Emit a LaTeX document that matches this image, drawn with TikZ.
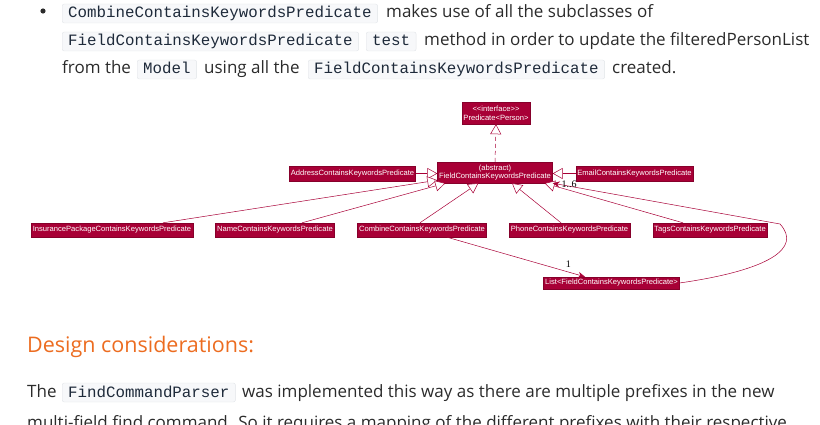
\documentclass[tikz,border=0pt]{standalone}
\usepackage{fontspec}
\setmainfont{Open Sans}
\setmonofont{Liberation Mono}
\newfontfamily\umlfont{Liberation Sans}
\newfontfamily\multfont{Liberation Serif}
\usetikzlibrary{arrows.meta,positioning}
\definecolor{umlred}{HTML}{A80036}
\definecolor{bodytext}{HTML}{2B2B2B}
\definecolor{headorange}{RGB}{236,108,32}
\definecolor{codeback}{HTML}{F7F8FA}
\definecolor{codeline}{HTML}{E1E4E8}
\definecolor{codetext}{HTML}{1E2A3A}
\tikzset{
  txt/.style={inner sep=0pt, anchor=base west, text=bodytext,
    font=\fontsize{17}{20}\selectfont},
  codebox/.style={anchor=base west, draw=codeline, fill=codeback,
    rounded corners=2pt, inner xsep=6pt, inner ysep=3pt, text height=11pt,
    text depth=2pt, text=codetext, font=\ttfamily\fontsize{15.8}{18}\selectfont},
  umlbox/.style={draw=umlred!80!black, fill=umlred, text=white, inner xsep=1.5pt,
    inner ysep=0pt, align=center, minimum height=#1,
    font=\umlfont\fontsize{7.6}{8.6}\selectfont},
  umlbox/.default=14pt,
  gen/.style={draw=umlred, line width=0.5pt,
    -{Triangle[open,length=10pt,width=11pt,fill=white]}},
  assoc/.style={draw=umlred, line width=0.5pt, -{Stealth[length=7pt,width=6pt]}},
  mult/.style={inner sep=0pt, text=black, font=\multfont\fontsize{10}{10}\selectfont}
}
\begin{document}
\begin{tikzpicture}[x=1pt, y=-1pt]
\useasboundingbox (0,0) rectangle (820,425);
\clip (0,0) rectangle (820,425);

\fill[bodytext] (43,11) circle (2.6pt);
\node[codebox] (c1) at (62,18) {CombineContainsKeywordsPredicate};
\node[txt] (t1) at (386,18) {makes use of all the subclasses of};
\node[codebox] (c2) at (62,46) {FieldContainsKeywordsPredicate};
\node[codebox] (c3) at (366,46) {test};
\node[txt] (t2) at (424,46) {method in order to update the filteredPersonList};
\node[txt] (t3) at (62,74) {from the};
\node[codebox] (c4) at (137,74) {Model};
\node[txt] (t4) at (204,74) {using all the};
\node[codebox] (c5) at (308,74) {FieldContainsKeywordsPredicate};
\node[txt] (t5) at (612,74) {created.};

\node[umlbox=22pt] (pred) at (496,113) {<{}<interface>{}>\\Predicate<Person>};
\node[umlbox=21pt] (field) at (495,172.5) {(abstract)\\FieldContainsKeywordsPredicate};
\node[umlbox=15pt] (address) at (352.5,173.5) {AddressContainsKeywordsPredicate};
\node[umlbox=15pt] (email) at (634.5,173.5) {EmailContainsKeywordsPredicate};
\node[umlbox] (insurance) at (112,230) {InsurancePackageContainsKeywordsPredicate};
\node[umlbox] (name) at (275,230) {NameContainsKeywordsPredicate};
\node[umlbox] (combine) at (422,230) {CombineContainsKeywordsPredicate};
\node[umlbox] (phone) at (569.5,230) {PhoneContainsKeywordsPredicate};
\node[umlbox] (tags) at (710,230) {TagsContainsKeywordsPredicate};
\node[umlbox=12pt] (list) at (611.5,283) {List<FieldContainsKeywordsPredicate>};

\draw[gen, dash pattern=on 4pt off 3pt] (field.north) -- (pred.south);
\draw[gen] (address.east) -- (address.east -| field.west);
\draw[gen] (email.west) -- (email.west -| field.east);
\draw[gen] ([xshift=51pt]insurance.north) -- ([yshift=3pt]field.south west);
\draw[gen] ([xshift=27pt]name.north) -- ([xshift=8pt]field.south west);
\draw[gen] ([xshift=-2pt]combine.north) -- ([xshift=41pt]field.south west);
\draw[gen] ([xshift=-8.5pt]phone.north) -- ([xshift=17pt]field.south);
\draw[gen] ([xshift=-27pt]tags.north) -- ([xshift=-8pt]field.south east);
\draw[assoc] ([xshift=25pt]combine.south) -- ([xshift=-26.5pt]list.north)
  node[mult, pos=0.88, above=4pt] {1};
\draw[assoc] (list.east) .. controls (770,270) and (802,248) .. (780,224)
  -- (field.south east) node[mult, pos=0.97, right=2pt] {1..6};

\node[txt, text=headorange, font=\fontsize{21.5}{24}\selectfont] (head) at (27,352)
  {Design considerations:};
\node[txt] (p1) at (27,397) {The};
\node[codebox] (c6) at (62,397) {FindCommandParser};
\node[txt] (p2) at (242,397)
  {was implemented this way as there are multiple prefixes in the new};
\node[txt] (p3) at (27,428)
  {multi-field find command. So it requires a mapping of the different prefixes with their respective};
\end{tikzpicture}
\end{document}
